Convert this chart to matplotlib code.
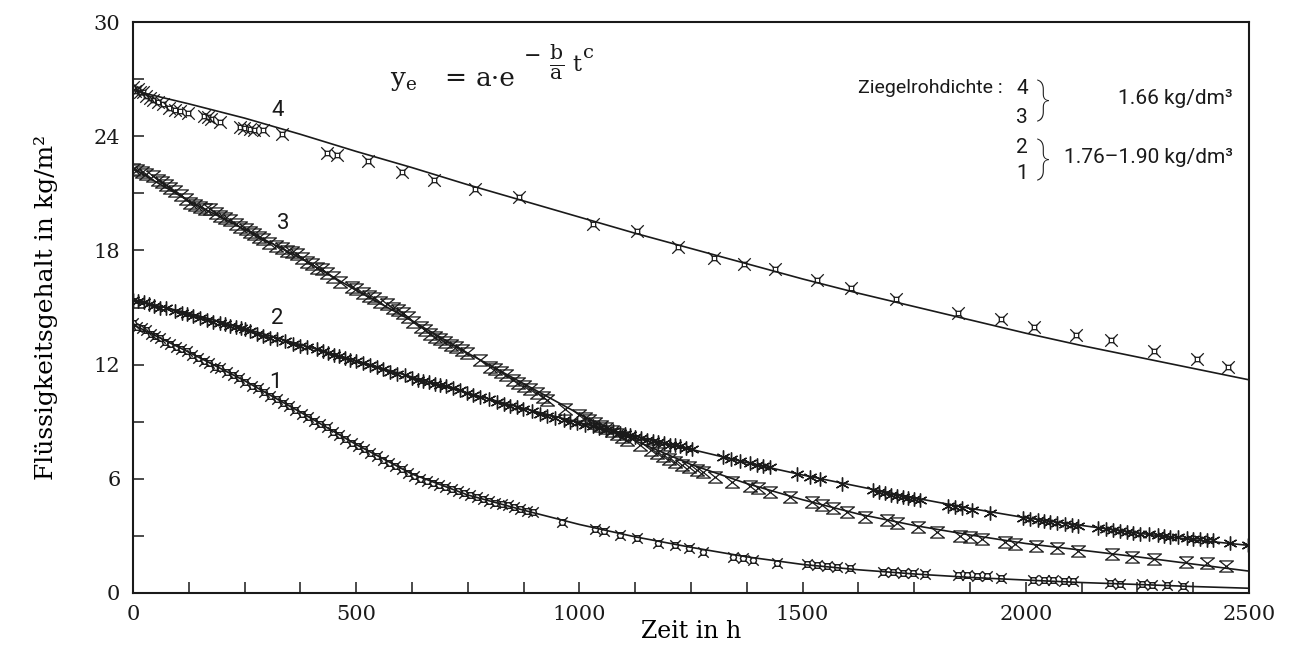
import matplotlib
matplotlib.use('Agg')
import matplotlib.pyplot as plt
from matplotlib.path import Path
from matplotlib.ticker import MultipleLocator

plt.rcParams['font.family'] = ['DejaVu Serif']
plt.rcParams['mathtext.fontset'] = 'dejavuserif'

# measured points (t in h, liquid content in kg/m2)
t1 = [0, 10, 20, 30, 40, 50, 60, 72, 84, 96, 108, 120, 133, 146, 158, 170, 183, 196, 210, 224, 238, 252, 266, 280,
      294, 308, 322, 336, 350, 364, 378, 392, 406, 420, 434, 448, 462, 476, 490, 504, 518, 532, 546, 560, 574, 588,
      602, 616, 630, 644, 658, 672, 686, 700, 714, 728, 742, 756, 770, 784, 798, 812, 826, 840, 854, 868, 882, 896,
      960, 1035, 1055, 1090, 1130, 1175, 1215, 1245, 1277, 1344, 1366, 1389, 1443, 1510, 1532, 1555, 1578, 1606,
      1680, 1702, 1725, 1748, 1774, 1848, 1868, 1890, 1913, 1945, 2016, 2040, 2062, 2085, 2106, 2189, 2211, 2260,
      2283, 2316, 2352]
v1 = [14.2, 14.0, 13.9, 13.8, 13.6, 13.5, 13.4, 13.2, 13.1, 12.9, 12.8, 12.7, 12.5, 12.35, 12.2, 12.1, 11.9, 11.8,
      11.6, 11.45, 11.3, 11.1, 10.9, 10.75, 10.55, 10.35, 10.2, 10.0, 9.8, 9.6, 9.4, 9.25, 9.05, 8.9, 8.7, 8.45, 8.3,
      8.1, 7.9, 7.7, 7.55, 7.35, 7.2, 7.0, 6.85, 6.65, 6.5, 6.3, 6.15, 6.0, 5.9, 5.8, 5.7, 5.55, 5.45, 5.35, 5.25,
      5.15, 5.05, 4.95, 4.85, 4.75, 4.65, 4.6, 4.5, 4.4, 4.3, 4.25,
      3.75, 3.35, 3.25, 3.05, 2.9, 2.65, 2.5, 2.35, 2.15, 1.9, 1.85, 1.75, 1.6, 1.5, 1.45, 1.4, 1.38, 1.3,
      1.1, 1.08, 1.05, 1.05, 1.02, 0.95, 0.92, 0.9, 0.88, 0.78, 0.7, 0.68, 0.66, 0.63, 0.62, 0.5, 0.48, 0.45,
      0.43, 0.4, 0.38]

t2 = [0, 12, 24, 36, 48, 60, 75, 94, 110, 121, 135, 150, 165, 179, 195, 205, 217, 230, 241, 251, 263, 278, 292, 308,
      323, 340, 358, 374, 390, 412, 425, 437, 450, 462, 474, 486, 500, 515, 530, 547, 560, 576, 592, 609, 625, 638,
      650, 663, 676, 688, 702, 717, 732, 748, 762, 777, 797, 815, 830, 845, 860, 874, 893, 912, 928, 945, 965, 980,
      995, 1012, 1030, 1045, 1060, 1075, 1090, 1102, 1113, 1125, 1138, 1151, 1165, 1177, 1190, 1202, 1214, 1225,
      1238, 1252, 1322, 1340, 1360, 1382, 1398, 1411, 1427, 1487, 1517, 1539, 1588, 1658, 1672, 1685, 1698, 1711,
      1724, 1736, 1749, 1763, 1826, 1842, 1857, 1879, 1920, 1994, 2010, 2027, 2041, 2054, 2070, 2088, 2103, 2117,
      2162, 2180, 2195, 2211, 2227, 2241, 2256, 2276, 2296, 2310, 2323, 2342, 2361, 2375, 2390, 2405, 2419, 2457,
      2498]
v2 = [15.4, 15.35, 15.3, 15.2, 15.1, 15.0, 14.95, 14.8, 14.7, 14.65, 14.55, 14.45, 14.35, 14.25, 14.2, 14.15, 14.05,
      13.95, 13.9, 13.85, 13.75, 13.6, 13.5, 13.4, 13.35, 13.25, 13.1, 13.0, 12.9, 12.8, 12.7, 12.6, 12.5, 12.45,
      12.35, 12.25, 12.2, 12.1, 12.0, 11.9, 11.75, 11.6, 11.5, 11.45, 11.3, 11.2, 11.15, 11.1, 11.0, 10.95, 10.85,
      10.75, 10.65, 10.5, 10.4, 10.3, 10.2, 10.05, 9.95, 9.85, 9.75, 9.65, 9.55, 9.4, 9.3, 9.2, 9.1, 9.0, 8.95, 8.85,
      8.75, 8.65, 8.55, 8.5, 8.4, 8.35, 8.3, 8.2, 8.15, 8.05, 8.0, 7.95, 7.9, 7.8, 7.75, 7.7, 7.6, 7.55, 7.15, 7.05,
      6.95, 6.85, 6.75, 6.65, 6.6, 6.25, 6.1, 6.0, 5.75, 5.4, 5.3, 5.25, 5.15, 5.1, 5.05, 5.0, 4.95, 4.9, 4.55, 4.5,
      4.45, 4.35, 4.2, 3.95, 3.9, 3.85, 3.8, 3.75, 3.7, 3.65, 3.55, 3.5, 3.4, 3.35, 3.3, 3.25, 3.2, 3.15, 3.12,
      3.08, 3.05, 3.0, 2.95, 2.92, 2.9, 2.85, 2.82, 2.8, 2.78, 2.65, 2.5]

t3 = [0, 10, 20, 30, 45, 55, 65, 75, 83, 95, 108, 118, 128, 140, 150, 162, 172, 185, 196, 207, 217, 230, 240, 253,
      262, 272, 282, 291, 305, 320, 333, 345, 357, 367, 378, 390, 400, 412, 423, 435, 447, 464, 490, 500, 515, 528,
      540, 553, 569, 582, 594, 605, 617, 627, 645, 655, 665, 676, 688, 700, 712, 724, 736, 748, 777, 800, 812, 824,
      836, 851, 863, 876, 890, 905, 918, 927, 968, 1000, 1012, 1022, 1035, 1048, 1060, 1073, 1085, 1096, 1107, 1136,
      1160, 1173, 1187, 1200, 1215, 1230, 1245, 1263, 1277, 1304, 1342, 1382, 1400, 1427, 1472, 1521, 1544, 1568,
      1599, 1640, 1689, 1712, 1759, 1801, 1853, 1875, 1902, 1953, 1976, 2023, 2070, 2117, 2193, 2238, 2287, 2359,
      2406, 2448]
v3 = [22.3, 22.2, 22.1, 22.0, 21.9, 21.7, 21.6, 21.45, 21.3, 21.1, 20.9, 20.7, 20.5, 20.4, 20.3, 20.2, 20.15, 19.95,
      19.8, 19.7, 19.6, 19.4, 19.25, 19.1, 18.95, 18.85, 18.7, 18.6, 18.4, 18.25, 18.1, 17.95, 17.9, 17.8, 17.6,
      17.4, 17.3, 17.1, 17.0, 16.8, 16.6, 16.35, 16.1, 15.95, 15.75, 15.6, 15.5, 15.3, 15.2, 15.0, 14.85, 14.7, 14.5,
      14.25, 14.0, 13.8, 13.6, 13.45, 13.35, 13.2, 13.05, 12.9, 12.75, 12.6, 12.25, 11.9, 11.75, 11.6, 11.45, 11.2,
      11.05, 10.9, 10.7, 10.5, 10.3, 10.15, 9.65, 9.35, 9.2, 9.1, 8.95, 8.8, 8.65, 8.5, 8.35, 8.2, 8.05, 7.75, 7.5,
      7.35, 7.2, 7.05, 6.9, 6.75, 6.6, 6.45, 6.35, 6.1, 5.85, 5.6, 5.5, 5.3, 5.05, 4.8, 4.6, 4.45, 4.25, 4.0, 3.85,
      3.7, 3.45, 3.2, 3.0, 2.95, 2.85, 2.7, 2.6, 2.45, 2.35, 2.2, 2.05, 1.9, 1.8, 1.65, 1.55, 1.4]

t4 = [0, 5, 11, 15, 22, 30, 38, 45, 55, 67, 80, 94, 105, 123, 160, 168, 175, 195, 240, 248, 262, 270, 291, 334,
      435, 457, 527, 603, 674, 766, 865, 1030, 1129, 1221, 1302, 1369, 1438, 1532, 1608, 1709, 1848, 1944, 2018,
      2112, 2190, 2287, 2383, 2453]
v4 = [26.6, 26.4, 26.5, 26.3, 26.3, 26.1, 26.0, 25.9, 25.8, 25.7, 25.5, 25.4, 25.35, 25.2, 25.05, 25.0, 24.9, 24.75,
      24.5, 24.45, 24.4, 24.35, 24.3, 24.1, 23.1, 23.0, 22.7, 22.1, 21.7, 21.2, 20.8, 19.4, 19.0, 18.2, 17.6, 17.3,
      17.0, 16.45, 16.0, 15.45, 14.7, 14.4, 14.0, 13.55, 13.3, 12.7, 12.3, 11.9]

# fitted curves y_e
t_fit = [0, 125, 250, 375, 500, 625, 750, 875, 1000, 1125, 1250, 1375, 1500, 1625, 1750, 1875, 2000, 2125, 2250,
         2375, 2500]
fit1 = [14.1, 12.65, 11.15, 9.5, 7.8, 6.25, 5.15, 4.35, 3.6, 2.95, 2.4, 1.9, 1.5, 1.22, 1.0, 0.82, 0.68, 0.55, 0.45,
        0.34, 0.25]
fit2 = [15.4, 14.7, 13.9, 13.05, 12.2, 11.35, 10.5, 9.7, 8.95, 8.25, 7.55, 6.85, 6.2, 5.6, 5.0, 4.45, 3.95, 3.55,
        3.15, 2.8, 2.5]
fit3 = [22.3, 20.6, 19.1, 17.6, 15.9, 14.3, 12.6, 11.0, 9.4, 8.0, 6.75, 5.75, 4.9, 4.15, 3.55, 3.05, 2.6, 2.25, 1.9,
        1.52, 1.15]
fit4 = [26.4, 25.7, 24.95, 24.1, 23.2, 22.35, 21.45, 20.6, 19.75, 18.9, 18.1, 17.3, 16.5, 15.75, 15.05, 14.35, 13.65,
        13.0, 12.4, 11.8, 11.2]

curve_labels = ['1', '2', '3', '4']


def seg_marker(segs):
    # build a marker out of polylines
    verts, codes = [], []
    for s in segs:
        verts.append(s[0]); codes.append(Path.MOVETO)
        for p in s[1:]:
            verts.append(p); codes.append(Path.LINETO)
    return Path(verts, codes)


# marker shapes
hexa = [(0.55, 0), (0.28, 0.48), (-0.28, 0.48), (-0.55, 0), (-0.28, -0.48), (0.28, -0.48), (0.55, 0)]
m1 = seg_marker([hexa, [(-0.9, -0.9), (-0.4, -0.4)], [(0.9, 0.9), (0.4, 0.4)],
                 [(-0.9, 0.9), (-0.4, 0.4)], [(0.9, -0.9), (0.4, -0.4)]])
m3 = seg_marker([[(-1, 0.8), (1, 0.8), (-1, -0.8), (1, -0.8), (-1, 0.8)]])
sq = [(-0.35, -0.35), (0.35, -0.35), (0.35, 0.35), (-0.35, 0.35), (-0.35, -0.35)]
m4 = seg_marker([sq, [(-1, -1), (-0.35, -0.35)], [(1, 1), (0.35, 0.35)],
                 [(-1, 1), (-0.35, 0.35)], [(1, -1), (0.35, -0.35)]])

ink = '#1a1a1a'
W, H = 1296, 646
x0, x1, y0, y1 = 133, 1249, 593, 22

fig = plt.figure(figsize=(W / 100, H / 100), dpi=100)
ax = fig.add_axes([x0 / W, 1 - y0 / H, (x1 - x0) / W, (y0 - y1) / H])


def px(x, y):
    # pixel position in the picture -> data coords, for placing the texts
    return (x - x0) / (x1 - x0) * 2500, (y0 - y) / (y0 - y1) * 30


for ff in [fit1, fit2, fit3, fit4]:
    ax.plot(t_fit, ff, color=ink, lw=1.2, zorder=2)

ax.plot(t1, v1, ls='none', marker=m1, ms=7.5, mfc='none', mec=ink, mew=1.0, zorder=3)
ax.plot(t2, v2, ls='none', marker=(6, 2, 0), ms=10, mfc='none', mec=ink, mew=1.0, zorder=3)
ax.plot(t3, v3, ls='none', marker=m3, ms=10, mfc='none', mec=ink, mew=0.9, zorder=3)
ax.plot(t4, v4, ls='none', marker=m4, ms=9, mfc='none', mec=ink, mew=0.9, zorder=3)

ax.set_xlim(0, 2500)
ax.set_ylim(0, 30)
ax.set_xticks([0, 500, 1000, 1500, 2000, 2500])
ax.set_yticks([0, 6, 12, 18, 24, 30])
ax.xaxis.set_minor_locator(MultipleLocator(125))
ax.yaxis.set_minor_locator(MultipleLocator(3))
ax.tick_params(which='both', direction='in', length=8, width=1.1, top=False, right=False,
               labelsize=15, pad=9, colors=ink)
for s in ax.spines.values():
    s.set_linewidth(1.5)
    s.set_color(ink)

ax.set_xlabel('Zeit in h', fontsize=17, labelpad=-3)
ax.set_ylabel('Flüssigkeitsgehalt in kg/m²', fontsize=18, labelpad=26)

# curve numbers
sans = ['Roboto', 'DejaVu Sans']
for lab, pos in zip(curve_labels, [(275, 382), (277, 318), (283, 223), (278, 110)]):
    ax.text(*px(*pos), lab, family=sans, fontsize=16, ha='center', va='center', color=ink)

# formula y_e = a*e^(-b/a t^c), put together piece by piece
ax.text(*px(390, 86), r'$\mathrm{y_e}$', fontsize=19, ha='left', va='baseline', color=ink)
ax.text(*px(455, 86), '=', fontsize=19, ha='center', va='baseline', color=ink)
ax.text(*px(476, 86), 'a·e', fontsize=19, ha='left', va='baseline', color=ink)
ax.text(*px(533, 56), '−', fontsize=15, ha='center', va='center', color=ink)
ax.text(*px(557, 62), r'$\mathrm{\frac{b}{a}}$', fontsize=21, ha='center', va='center', color=ink)
ax.text(*px(572, 71), 't', fontsize=16, ha='left', va='baseline', color=ink)
ax.text(*px(583, 58), 'c', fontsize=14, ha='left', va='baseline', color=ink)

# density legend
ax.text(*px(1003, 88), 'Ziegelrohdichte :', family=sans, fontsize=14, ha='right', va='center', color=ink)
for lab, yy in zip(['4', '3', '2', '1'], [88, 117, 147, 173]):
    ax.text(*px(1022, yy), lab, family=sans, fontsize=15, ha='center', va='center', color=ink)
for yy in [101, 160]:
    ax.text(*px(1043, yy), '}', family=sans, fontsize=30, fontweight='light',
            ha='center', va='center', color=ink)
ax.text(*px(1233, 98), '1.66 kg/dm³', family=sans, fontsize=15, ha='right', va='center', color=ink)
ax.text(*px(1233, 157), '1.76–1.90 kg/dm³', family=sans, fontsize=15, ha='right', va='center', color=ink)

fig.savefig('out.png', dpi=100)
